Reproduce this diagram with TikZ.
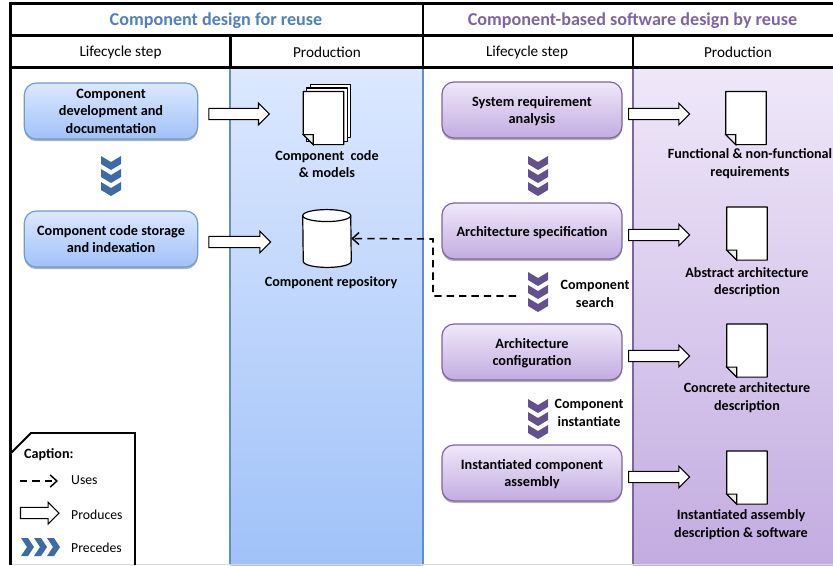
\documentclass[tikz,border=0pt]{standalone}
\usepackage{fontspec}
\setmainfont{Carlito}
\usetikzlibrary{calc,arrows.meta,shadows}
\definecolor{reuseblue}{HTML}{4F81BD}
\definecolor{reusepurple}{HTML}{8064A2}
\definecolor{chevblue}{HTML}{3C6BA6}
\definecolor{chevpurple}{HTML}{63508C}
\definecolor{bluetop}{HTML}{DCE8FF}
\definecolor{bluebot}{HTML}{A0C2F8}
\definecolor{purptop}{HTML}{EFE8F9}
\definecolor{purpbot}{HTML}{C3ACE1}

\begin{document}
\begin{tikzpicture}[x=.75pt,y=-.75pt]
 \tikzset{title/.style = {font=\fontsize{13.6}{16}\selectfont\bfseries}}
 \tikzset{head/.style = {font=\fontsize{11.4}{14}\selectfont}}
 \tikzset{label/.style = {font=\fontsize{10.6}{13}\selectfont\bfseries,align=center}}
 \tikzset{small/.style = {font=\fontsize{10.3}{12}\selectfont}}
 \tikzset{stepbox/.style = {draw,line width=.9pt,rounded corners=9pt,minimum height=42pt,text depth=0pt,
   align=center,font=\fontsize{10.7}{13}\selectfont\bfseries,
   drop shadow={shadow xshift=0pt,shadow yshift=-1.6pt,opacity=.3,fill=black}}}
 \tikzset{bluestep/.style = {stepbox,draw=reuseblue!80,minimum width=130pt,top color=bluetop,bottom color=bluebot}}
 \tikzset{purplestep/.style = {stepbox,draw=reusepurple,minimum width=135pt,top color=purptop,bottom color=purpbot}}
 \tikzset{docbox/.style = {minimum width=30pt,minimum height=39.5pt,inner sep=0pt}}
 \tikzset{docline/.style = {draw,line width=.9pt,fill=white,line join=round}}
 \tikzset{uses/.style = {line width=1.15pt,dash pattern=on 5.5pt off 3.8pt,-{Straight Barb[length=5pt,width=9pt,line width=1.1pt]}}}
 \tikzset{produces/.style = {draw,line width=.8pt,fill=white,to path={
   let \p1=(\tikztostart),\p2=(\tikztotarget) in
   (\x1,\y1+4.2pt) -- (\x2-8.2pt,\y1+4.2pt) -- (\x2-8.2pt,\y1+8.2pt) -- (\x2,\y1)
   -- (\x2-8.2pt,\y1-8.2pt) -- (\x2-8.2pt,\y1-4.2pt) -- (\x1,\y1-4.2pt) -- cycle}}}
 \tikzset{chevstack/.pic = {
   \foreach \n in {0,13,26}
    \fill[#1] (-10,\n) -- (0,\n+6) -- (10,\n) -- (10,\n+8) -- (0,\n+14) -- (-10,\n+8) -- cycle;}}

 \useasboundingbox (0,0) rectangle (833,565);

 % production panels
 \shade[top color=bluetop,bottom color=bluebot] (230,67) rectangle (423,565);
 \shade[top color=purptop,bottom color=purpbot] (633,67) rectangle (833,565);
 \draw[reuseblue!90,line width=1.1pt] (230,67) -- (230,565);
 \draw[reuseblue!90,line width=1.1pt] (423,67) -- (423,565);
 \draw[reusepurple,line width=.8pt] (633,67) -- (633,565);
 \draw[black!15] (10,564.5) -- (833,564.5);

 % table head
 \draw[line width=1.6pt] (833,3.5) -- (10.5,3.5) -- (10.5,565);
 \draw[line width=1.6pt] (10.5,35.5) -- (833,35.5);
 \draw[line width=1.6pt] (10.5,67.5) -- (833,67.5);
 \draw[line width=1.6pt] (423,3.5) -- (423,67.5);
 \draw[line width=1.6pt] (230.5,35.5) -- (230.5,67.5);
 \draw[line width=1.6pt] (633,35.5) -- (633,67.5);
 \node[title,text=reuseblue] (reusetitle) at (216,21) {Component design for reuse};
 \node[title,text=reusepurple] (bytitle) at (632.5,21) {Component-based software design by reuse};
 \node[head] (headstepa) at (120.5,52) {Lifecycle step};
 \node[head] (headproda) at (327,52) {Production};
 \node[head] (headstepb) at (527,52) {Lifecycle step};
 \node[head] (headprodb) at (738,52) {Production};

 % lifecycle steps
 \node[bluestep] (develop) at (111,111) {Component\\development and\\documentation};
 \node[bluestep] (storage) at (111,239) {Component code storage\\and indexation};
 \node[purplestep] (require) at (532,110) {System requirement\\analysis};
 \node[purplestep] (archspec) at (532,231) {Architecture specification};
 \node[purplestep] (archconf) at (532,352) {Architecture\\configuration};
 \node[purplestep] (assembly) at (532,473) {Instantiated component\\assembly};

 % precedes
 \pic at (111,156) {chevstack=chevblue};
 \pic at (538,156) {chevstack=chevpurple};
 \pic at (538,272) {chevstack=chevpurple};
 \pic at (538,399) {chevstack=chevpurple};
 \node[label] (search) at (595,294) {Component\\search};
 \node[label] (instant) at (589,413) {Component\\instantiate};

 % documents
 \foreach \name/\x/\y in {codedoc/323.5/118,reqdoc/746/118,absdoc/747/233.5,concdoc/747/350.5,instdoc/747/477.5}
  \node[docbox] (\name) at (\x,\y) {};
 \foreach \off in {7,3.5}
  \draw[docline] ([xshift=\off*.75pt,yshift=\off*.75pt]codedoc.north west) rectangle ([xshift=\off*.75pt,yshift=\off*.75pt]codedoc.south east);
 \foreach \name in {codedoc,reqdoc,absdoc,concdoc,instdoc} {
  \draw[docline] (\name.north west) -- (\name.north east) -- (\name.south east)
   -- ([xshift=7.5pt]\name.south west) -- ([yshift=7.5pt]\name.south west) -- cycle;
  \draw[line width=.8pt,fill=black!8] ([yshift=7.5pt]\name.south west) -- ([xshift=7.5pt,yshift=7.5pt]\name.south west)
   -- ([xshift=7.5pt]\name.south west) -- cycle;
 }

 % repository
 \node[minimum width=36pt,minimum height=43pt,inner sep=0pt] (repo) at (327,238.5) {};
 \draw[docline] ([yshift=-4.5pt]repo.north west) arc[start angle=180,end angle=0,x radius=18pt,y radius=4.5pt]
  -- ([yshift=4.5pt]repo.south east) arc[start angle=0,end angle=-180,x radius=18pt,y radius=4.5pt] -- cycle;
 \draw[line width=.9pt] ([yshift=-4.5pt]repo.north west) arc[start angle=180,end angle=360,x radius=18pt,y radius=4.5pt];

 % production labels
 \node[label] (codelabel) at (327,164) {Component~~code\\\& models};
 \node[label] (repolabel) at (331,282.5) {Component repository};
 \node[label] (reqlabel) at (750,163.5) {Functional \& non-functional\\requirements};
 \node[label] (abslabel) at (747,282) {Abstract architecture\\description};
 \node[label] (conclabel) at (747,397.5) {Concrete architecture\\description};
 \node[label] (instlabel) at (741,524.5) {Instantiated assembly\\description \& software};

 % produces
 \draw[produces] ([xshift=8pt,yshift=-2.25pt]develop.east) to ([xshift=-25pt]repo.west);
 \draw[produces] ([xshift=8pt,yshift=-2.25pt]storage.east) to ([xshift=-24pt]repo.west);
 \draw[produces] ([xshift=4.5pt,yshift=-3pt]require.east) to ([xshift=-27pt]reqdoc.west);
 \draw[produces] ([xshift=4.5pt,yshift=-3pt]archspec.east) to ([xshift=-27.75pt]absdoc.west);
 \draw[produces] ([xshift=4.5pt,yshift=-3pt]archconf.east) to ([xshift=-27.75pt]concdoc.west);
 \draw[produces] ([xshift=4.5pt,yshift=-3pt]assembly.east) to ([xshift=-27.75pt]instdoc.west);

 % uses
 \coordinate (searchend) at (516,296);
 \coordinate (searchbend) at (433,296);
 \coordinate (searchtop) at (433,239);
 \draw[uses] (searchend) -- (searchbend) -- (searchtop) -- (repo.east);

 % caption
 \draw[line width=1.4pt,fill=white] (11,453) -- (31,433) -- (135,433) -- (135,565);
 \node[label,anchor=west] (captitle) at (19.5,455) {Caption:};
 \node[small,anchor=west] (usestext) at (66.5,480) {Uses};
 \node[small,anchor=west] (prodtext) at (66.5,515) {Produces};
 \node[small,anchor=west] (prectext) at (66.5,548) {Precedes};
 \coordinate (usesa) at (20,481);
 \coordinate (usesb) at (58,481);
 \draw[uses] (usesa) -- (usesb);
 \coordinate (proda) at (20.5,513);
 \coordinate (prodb) at (59,513);
 \draw[produces] (proda) to (prodb);
 \foreach \x in {21,34,47}
  \fill[chevblue] (\x,538) -- (\x+6,547) -- (\x,556) -- (\x+7,556) -- (\x+13,547) -- (\x+7,538) -- cycle;
\end{tikzpicture}
\end{document}
